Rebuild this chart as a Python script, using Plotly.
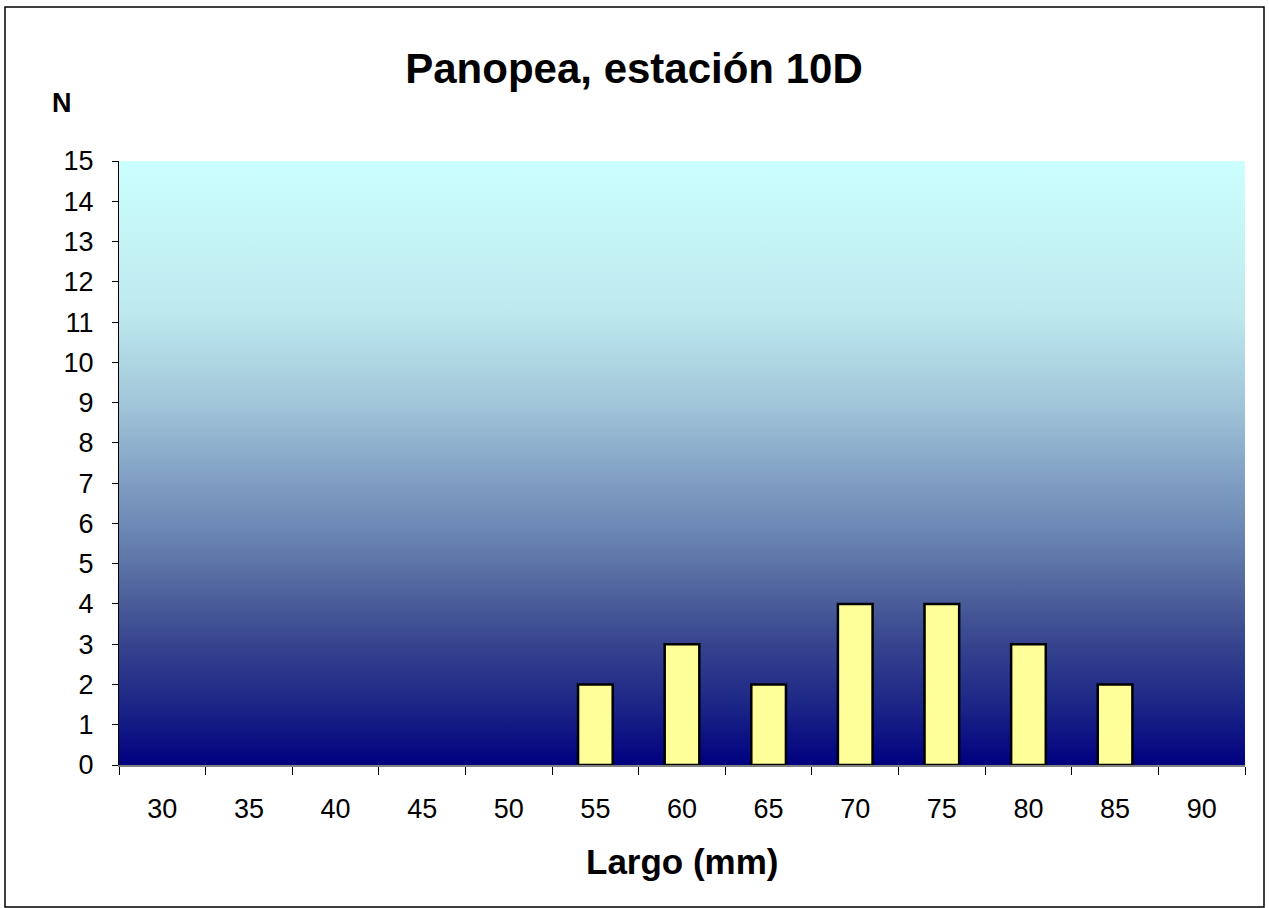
import plotly.graph_objects as go

categories = ["30", "35", "40", "45", "50", "55", "60", "65", "70", "75", "80", "85", "90"]
counts = [0, 0, 0, 0, 0, 2, 3, 2, 4, 4, 3, 2, 0]
y_ticks = list(range(0, 16))

W, H = 1269, 908
L, R, T, B = 119, 24, 161, 143
pw, ph = W - L - R, H - T - B

fig = go.Figure()

# gradient plot-area background on hidden axes
fig.add_trace(go.Scatter(
    x=[0, 1, 1, 0, 0], y=[0, 0, 1, 1, 0],
    fill="toself", mode="lines", line=dict(width=0),
    fillgradient=dict(type="vertical",
                      colorscale=[[0.0, "#000080"], [0.1, "#1C2686"],
                                  [0.2, "#36448E"], [0.3, "#53689F"],
                                  [0.4, "#6E8AB6"], [0.5, "#87A7C8"],
                                  [0.6, "#A2C6D9"], [0.75, "#BDE9EE"],
                                  [1.0, "#CCFFFF"]]),
    hoverinfo="skip", showlegend=False, xaxis="x", yaxis="y",
))

fig.add_trace(go.Bar(
    x=categories, y=[v if v > 0 else None for v in counts],
    xaxis="x2", yaxis="y2",
    marker=dict(color="#FFFF99", line=dict(color="black", width=2.5)),
    width=0.4, showlegend=False,
))

font_family = "Liberation Sans, Arial, sans-serif"

fig.update_layout(
    width=W, height=H,
    margin=dict(l=L, r=R, t=T, b=B),
    paper_bgcolor="white", plot_bgcolor="rgba(0,0,0,0)",
    font=dict(family=font_family, color="black", size=27),
    title=dict(text="<b>Panopea, estación 10D</b>", x=634 / W, xanchor="center",
               y=1 - 68 / H, yanchor="middle", font=dict(size=42)),
    xaxis=dict(range=[0, 1], visible=False, fixedrange=True),
    yaxis=dict(range=[0, 1], visible=False, fixedrange=True),
    xaxis2=dict(overlaying="x", anchor="y2", side="bottom", type="category",
                range=[-0.5, 12.5], tickson="boundaries", ticks="outside",
                ticklen=8, tickcolor="black", tickwidth=1,
                showline=True, linecolor="#808080", linewidth=2,
                showgrid=False, zeroline=False, ticklabelstandoff=19,
                tickfont=dict(size=27)),
    yaxis2=dict(overlaying="y", anchor="x2", side="left", range=[0, 15],
                tickvals=y_ticks, ticks="outside", ticklen=6,
                tickcolor="black", tickwidth=1, showline=True,
                linecolor="black", linewidth=1, showgrid=False,
                zeroline=False, ticklabelstandoff=13, tickfont=dict(size=27)),
    annotations=[
        dict(text="<b>N</b>", xref="paper", yref="paper",
             x=(62 - L) / pw, y=(H - B - 103) / ph,
             xanchor="center", yanchor="middle", showarrow=False,
             font=dict(size=27)),
        dict(text="<b>Largo (mm)</b>", xref="paper", yref="paper",
             x=0.5, y=(H - B - 862) / ph,
             xanchor="center", yanchor="middle", showarrow=False,
             font=dict(size=35)),
    ],
    shapes=[
        dict(type="rect", xref="paper", yref="paper",
             x0=(5 - L) / pw, x1=(1264 - L) / pw,
             y0=(H - B - 907) / ph, y1=(H - B - 7) / ph,
             line=dict(color="black", width=1.5), fillcolor="rgba(0,0,0,0)",
             layer="below"),
    ],
)

fig.write_html("out.html")
